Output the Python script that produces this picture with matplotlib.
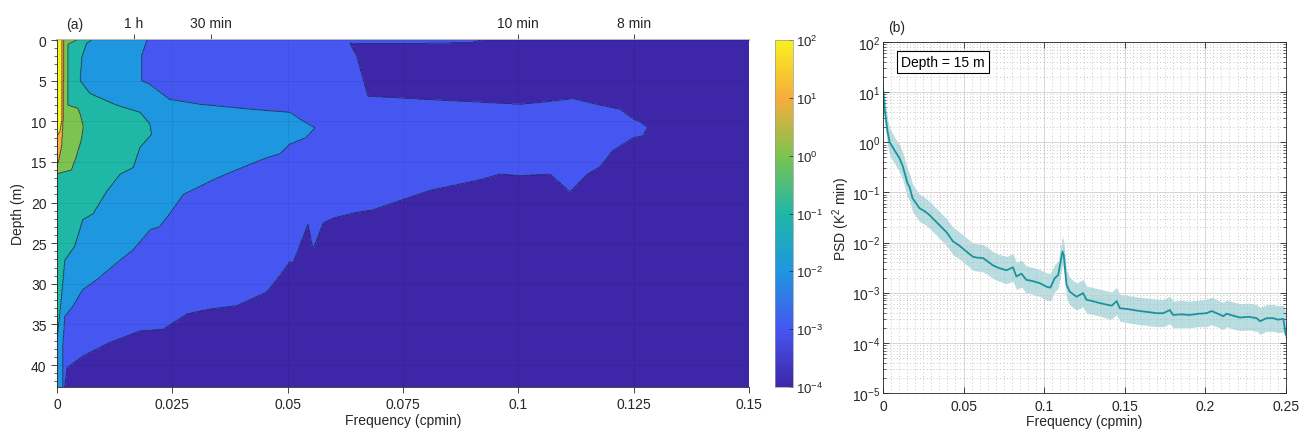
import numpy as np
import matplotlib
matplotlib.use("Agg")
from matplotlib import pyplot as plt
from matplotlib.colors import LinearSegmentedColormap, LogNorm
from matplotlib.cm import ScalarMappable
from matplotlib.ticker import MultipleLocator, LogLocator, NullFormatter

plt.rcParams['font.family'] = ['Liberation Sans', 'DejaVu Sans']
plt.rcParams['mathtext.fontset'] = 'custom'
plt.rcParams['mathtext.rm'] = 'Liberation Sans'
plt.rcParams['mathtext.it'] = 'Liberation Sans:italic'
plt.rcParams['font.size'] = 10

#---------------- dati pannello (a): bordi dei contorni ----------------
# colori dei livelli (parula) da 1e-4 a 1e2
colori_livelli = ['#3e26a8', '#4557f0', '#1f96e0', '#1fb7a6', '#7cc350', '#f7ac3c', '#f8f020']

# contorno 1e-3: bordo superiore e inferiore della zona blu, in funzione della frequenza
f1_sup = [0.0, 0.0630, 0.0636, 0.0650, 0.0674, 0.080, 0.1004, 0.1060, 0.1118, 0.1177, 0.1220, 0.1249, 0.1265, 0.1280, 0.1285]
d1_sup = [-1, -1, 0.5, 2.0, 6.9, 7.3, 7.9, 7.6, 7.2, 8.0, 8.5, 9.7, 10.1, 10.8, 11.0]
f1_inf = [0.0, 0.0012, 0.0017, 0.0022, 0.0056, 0.0115, 0.0180, 0.0230, 0.0282, 0.0332, 0.0390, 0.0455,
          0.0483, 0.0505, 0.0512, 0.0535, 0.0544, 0.0555, 0.0577, 0.0600, 0.0642, 0.0685, 0.0700, 0.0809,
          0.0917, 0.0960, 0.1004, 0.1069, 0.1112, 0.1150, 0.1177, 0.1205, 0.1250, 0.1270, 0.1280, 0.1285]
d1_inf = [43, 43, 42.6, 40.3, 38.9, 37.2, 35.8, 35.6, 33.7, 33.1, 32.7, 31.0,
          29.0, 27.3, 27.4, 24.0, 22.7, 25.8, 22.5, 21.9, 21.3, 20.9, 20.6, 18.5,
          17.2, 16.5, 16.7, 16.5, 18.7, 16.5, 15.6, 13.6, 12.0, 11.8, 10.8, 11.0]
# sottile striscia blu in alto
f1_striscia = [0.0620, 0.0640, 0.0800, 0.0900, 0.0920]
d1_striscia = [0.0, 0.45, 0.40, 0.30, 0.0]

# contorno 1e-2 (frequenza limite in funzione della profondità)
d2 = [0, 2.0, 5.0, 5.4, 7.3, 7.9, 8.5, 8.9, 9.7, 10.8, 12.0, 12.8, 14.0, 14.5, 15.3, 17.0, 19.0, 21.4,
      23.0, 23.3, 25.8, 27.4, 29.5, 30.7, 32.8, 34.0, 37.3, 43]
f2 = [0.0195, 0.0183, 0.0183, 0.0200, 0.0244, 0.0310, 0.0418, 0.0505, 0.0526, 0.0559, 0.0540, 0.0505,
      0.0483, 0.0454, 0.0418, 0.0346, 0.0274, 0.0244, 0.0222, 0.0203, 0.0165, 0.0130, 0.0086, 0.0056,
      0.0034, 0.0017, 0.0013, 0.0012]
# contorno 1e-1
d3 = [0, 0.4, 2.1, 5.0, 6.6, 8.0, 8.9, 10.3, 11.6, 13.2, 15.7, 16.5, 18.6, 21.4, 22.1, 25.4, 27.1, 33.7, 37.0, 43]
f3 = [0.0075, 0.0064, 0.0054, 0.0050, 0.0072, 0.0129, 0.0180, 0.0201, 0.0205, 0.0180, 0.0165, 0.0137,
      0.0108, 0.0078, 0.0056, 0.0038, 0.0017, 0.0006, 0.0, 0.0]
# contorno 1e0
d4 = [0, 0.5, 8.0, 8.4, 9.1, 10.6, 12.2, 14.3, 16.0, 16.3, 16.5, 43]
f4 = [0.0043, 0.0024, 0.0023, 0.0045, 0.0050, 0.0057, 0.0053, 0.0042, 0.0031, 0.0010, 0.0, 0.0]
# contorno 1e1
d5 = [0, 10.0, 11.0, 13.0, 15.0, 15.3, 43]
f5 = [0.0015, 0.0013, 0.0012, 0.0010, 0.0003, 0.0, 0.0]
# contorno 1e2
d6 = [0, 10.0, 11.3, 11.8, 43]
f6 = [0.0011, 0.0010, 0.0006, 0.0, 0.0]

tick_periodi = [1/60, 1/30, 1/10, 1/8]
etichette_periodi = ['1 h', '30 min', '10 min', '8 min']

#---------------- dati pannello (b): PSD a 15 m ----------------
freq_b = [0, 0.001, 0.0029, 0.0042, 0.0073, 0.0100, 0.0122, 0.0153, 0.0165, 0.0184, 0.0228, 0.026,
          0.029, 0.0352, 0.0395, 0.0435, 0.047, 0.0518, 0.0559, 0.0585, 0.0621, 0.065, 0.0683, 0.072,
          0.0766, 0.0807, 0.0828, 0.0859, 0.089, 0.093, 0.0973, 0.1014, 0.1039, 0.1066, 0.1087, 0.1114,
          0.1122, 0.1139, 0.1159, 0.1201, 0.1242, 0.1263, 0.130, 0.1346, 0.1387, 0.142, 0.145, 0.147,
          0.152, 0.1594, 0.165, 0.1698, 0.1739, 0.178, 0.180, 0.185, 0.1904, 0.196, 0.2008, 0.204,
          0.207, 0.2112, 0.2132, 0.217, 0.2215, 0.227, 0.2319, 0.234, 0.238, 0.2422, 0.245, 0.2484, 0.25]
psd_b = [12.6, 4.7, 1.6, 1.0, 0.68, 0.50, 0.34, 0.15, 0.13, 0.076, 0.048, 0.042,
         0.035, 0.022, 0.016, 0.0105, 0.0089, 0.0066, 0.0052, 0.0050, 0.0049, 0.0042, 0.0035, 0.0031,
         0.0028, 0.0032, 0.0021, 0.0024, 0.0018, 0.0017, 0.00155, 0.00132, 0.00126, 0.00195, 0.00224, 0.0066,
         0.0056, 0.00145, 0.00105, 0.00083, 0.00098, 0.00072, 0.00068, 0.00062, 0.00058, 0.00055, 0.00068, 0.00049,
         0.00047, 0.00043, 0.00041, 0.00039, 0.00039, 0.00045, 0.00036, 0.00037, 0.00036, 0.00038, 0.00039, 0.00043,
         0.00039, 0.00034, 0.00038, 0.00035, 0.00032, 0.00033, 0.00031, 0.00027, 0.00031, 0.00031, 0.00029, 0.00030, 0.000145]
psd_sup = [14, 8.5, 3.0, 1.9, 1.25, 0.93, 0.64, 0.29, 0.24, 0.145, 0.09, 0.079,
           0.066, 0.041, 0.030, 0.020, 0.0167, 0.0125, 0.0098, 0.0094, 0.0092, 0.0079, 0.0066, 0.0058,
           0.0053, 0.0060, 0.0040, 0.0045, 0.0034, 0.0032, 0.0029, 0.0025, 0.0024, 0.0037, 0.0042, 0.0135,
           0.0105, 0.0028, 0.0020, 0.00156, 0.00184, 0.00136, 0.00128, 0.00117, 0.00109, 0.00104, 0.00128, 0.00092,
           0.00088, 0.00081, 0.00077, 0.00074, 0.00073, 0.00085, 0.00068, 0.00070, 0.00068, 0.00071, 0.00074, 0.00081,
           0.00073, 0.00064, 0.00071, 0.00066, 0.00060, 0.00062, 0.00058, 0.00051, 0.00058, 0.00058, 0.00055, 0.00056, 0.00040]
psd_inf = [11, 2.6, 0.85, 0.55, 0.37, 0.27, 0.18, 0.08, 0.07, 0.041, 0.026, 0.023,
           0.019, 0.012, 0.0086, 0.0057, 0.0048, 0.0036, 0.0028, 0.0027, 0.0026, 0.0023, 0.0019, 0.0017,
           0.0015, 0.0017, 0.00115, 0.0013, 0.00098, 0.00092, 0.00084, 0.00072, 0.00068, 0.00106, 0.0012, 0.0036,
           0.0030, 0.00079, 0.00057, 0.00045, 0.00053, 0.00039, 0.00037, 0.00034, 0.00031, 0.00030, 0.00037, 0.00027,
           0.00025, 0.00023, 0.00022, 0.00021, 0.00021, 0.00024, 0.00020, 0.00020, 0.00020, 0.00021, 0.00021, 0.00023,
           0.00021, 0.000185, 0.00021, 0.00019, 0.000175, 0.00018, 0.00017, 0.000147, 0.00017, 0.00017, 0.00016, 0.000163, 0.00011]

grigio = '#262626'
colore_linea = '#1a939c'

parula = LinearSegmentedColormap.from_list('parula_approx', colori_livelli)

fig = plt.figure(figsize=(12.99, 4.35), dpi=100)

#---------------- pannello (a) ----------------
ax = fig.add_axes([0.0439, 0.108, 0.5327, 0.7977])
f = np.linspace(0, 0.15, 1501)
d = np.linspace(0, 42.7, 861)
F, D = np.meshgrid(f, d)

banda1 = ((D > np.interp(F, f1_sup, d1_sup)) & (D < np.interp(F, f1_inf, d1_inf))) | \
         (D < np.interp(F, f1_striscia, d1_striscia))
banda2 = F < np.interp(D, d2, f2)
banda3 = F < np.interp(D, d3, f3)
banda4 = F < np.interp(D, d4, f4)
banda5 = F < np.interp(D, d5, f5)
banda6 = F < np.interp(D, d6, f6)
conta = (banda1.astype(float) + banda2 + banda3 + banda4 + banda5 + banda6)

soglie = np.arange(-0.5, 7.0, 1.0)
ax.contourf(F, D, conta, levels=soglie, colors=colori_livelli)
ax.contour(F, D, conta, levels=soglie[1:-1], colors='#1c1c3a', linewidths=0.6, alpha=0.8)

ax.set_xlim(0, 0.15)
ax.set_ylim(42.7, 0)
ax.set_xticks([0, 0.025, 0.05, 0.075, 0.1, 0.125, 0.15])
ax.set_xticklabels(['0', '0.025', '0.05', '0.075', '0.1', '0.125', '0.15'])
ax.set_yticks(np.arange(0, 45, 5))
ax.yaxis.set_minor_locator(MultipleLocator(1))
ax.tick_params(direction='out', colors=grigio, labelsize=10, length=4, width=0.6)
ax.tick_params(which='minor', direction='out', length=2, width=0.5, colors=grigio)
ax.grid(True, color='k', alpha=0.08, lw=0.6)
ax.set_axisbelow(False)
ax.set_xlabel('Frequency (cpmin)', color=grigio, fontsize=10, labelpad=1)
ax.set_ylabel('Depth (m)', color=grigio, fontsize=10, labelpad=4)
for lato in ['left', 'bottom']:
    ax.spines[lato].set_color(grigio)
    ax.spines[lato].set_linewidth(0.6)
ax.spines['right'].set_visible(False)
ax.spines['top'].set_visible(False)

sec = ax.secondary_xaxis('top')
sec.set_xticks(tick_periodi)
sec.set_xticklabels(etichette_periodi)
sec.tick_params(direction='out', colors=grigio, labelsize=10, length=4, width=0.6)
sec.spines['top'].set_color('#b8b8b8')
sec.spines['top'].set_linewidth(1.5)

fig.text(75 / 1299, 1 - 25 / 435, '(a)', fontsize=10, ha='center', va='center', color=grigio)

# colorbar continua (senza etichetta)
cax = fig.add_axes([0.5966, 0.108, 0.0139, 0.7977])
sm = ScalarMappable(norm=LogNorm(1e-4, 1e2), cmap=parula)
cb = fig.colorbar(sm, cax=cax)
cb.set_ticks([1e-4, 1e-3, 1e-2, 1e-1, 1e0, 1e1, 1e2])
cb.ax.minorticks_off()
cb.ax.tick_params(direction='in', length=3, width=0.5, colors=grigio, labelsize=9.5, pad=2)
cb.outline.set_edgecolor('#999999')
cb.outline.set_linewidth(0.5)

#---------------- pannello (b) ----------------
ax2 = fig.add_axes([0.6797, 0.0943, 0.3102, 0.807])
ax2.fill_between(freq_b, psd_inf, psd_sup, color=colore_linea, alpha=0.3, lw=0)
ax2.plot(freq_b, psd_b, color=colore_linea, lw=1.3)
ax2.set_yscale('log')
ax2.set_xlim(0, 0.25)
ax2.set_ylim(1e-5, 1e2)
ax2.set_xticks([0, 0.05, 0.1, 0.15, 0.2, 0.25])
ax2.set_xticklabels(['0', '0.05', '0.1', '0.15', '0.2', '0.25'])
ax2.xaxis.set_minor_locator(MultipleLocator(0.005))
ax2.yaxis.set_major_locator(LogLocator(base=10, numticks=20))
ax2.yaxis.set_minor_locator(LogLocator(base=10, subs=np.arange(2, 10), numticks=20))
ax2.yaxis.set_minor_formatter(NullFormatter())
ax2.grid(True, which='major', color='#d6d6d6', lw=0.7, ls='-')
ax2.grid(True, which='minor', color='#b5b5b5', lw=0.6, ls=(0, (1, 3)))
ax2.tick_params(which='major', direction='in', top=True, right=True, colors=grigio, labelsize=10, length=4, width=0.6, pad=2)
ax2.tick_params(which='minor', direction='in', top=False, right=True, colors=grigio, length=2, width=0.5)
ax2.tick_params(axis='x', which='minor', length=0)
ax2.tick_params(axis='x', which='major', pad=4)
for lato in ax2.spines:
    ax2.spines[lato].set_color(grigio)
    ax2.spines[lato].set_linewidth(0.6)
ax2.set_xlabel('Frequency (cpmin)', color=grigio, fontsize=10, labelpad=1)
ax2.set_ylabel(r'PSD (K$^2$ min)', color=grigio, fontsize=10, labelpad=0)
ax2.text(0.045, 0.963, 'Depth = 15 m', transform=ax2.transAxes, ha='left', va='top', fontsize=10,
         color='k', bbox=dict(boxstyle='square,pad=0.3', fc='white', ec='k', lw=0.8))
fig.text(897 / 1299, 1 - 28 / 435, '(b)', fontsize=10, ha='center', va='center', color=grigio)

plt.savefig('out.png', dpi=100)
